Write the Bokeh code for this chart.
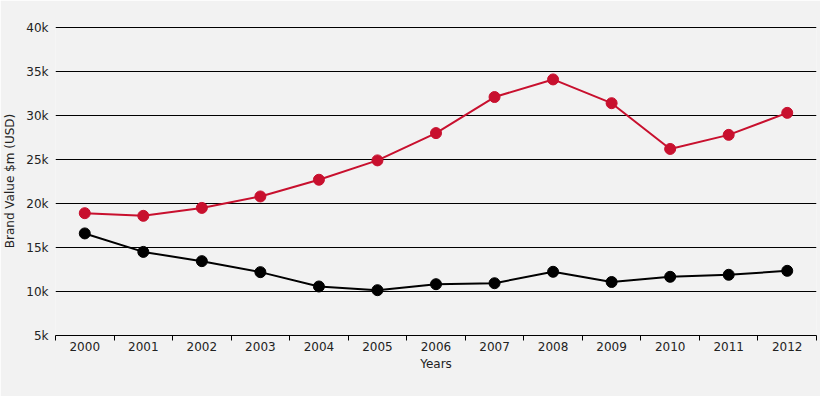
from bokeh.plotting import figure
from bokeh.models import FixedTicker, Range1d, CustomJSTickFormatter
from bokeh.embed import file_html
from bokeh.resources import INLINE

years = ["2000", "2001", "2002", "2003", "2004", "2005", "2006",
         "2007", "2008", "2009", "2010", "2011", "2012"]
red_values = [18900, 18600, 19500, 20800, 22700, 24900, 28000,
              32100, 34100, 31400, 26200, 27800, 30300]
black_values = [16600, 14500, 13450, 12200, 10570, 10150, 10830,
                10940, 12240, 11080, 11670, 11900, 12350]
y_ticks = [5000, 10000, 15000, 20000, 25000, 30000, 35000, 40000]

RED = "#c8102e"
BLACK = "#000000"
BG = "#f2f2f2"
FONT = "DejaVu Sans"

xs = list(range(len(years)))

p = figure(width=820, height=396, output_backend="svg", toolbar_location=None,
           x_range=Range1d(-0.5, len(years) - 0.5),
           y_range=Range1d(5000, 40115),
           min_border_left=55, min_border_right=4, min_border_top=26,
           min_border_bottom=61)
p.background_fill_color = BG
p.border_fill_color = BG
p.outline_line_color = None

p.line(xs, red_values, line_color=RED, line_width=2)
p.scatter(xs, red_values, size=11, fill_color=RED, line_color=RED)
p.line(xs, black_values, line_color=BLACK, line_width=2)
p.scatter(xs, black_values, size=11, fill_color=BLACK, line_color=BLACK)

# x axis
p.xaxis.ticker = FixedTicker(ticks=xs, minor_ticks=[i - 0.5 for i in range(len(years) + 1)])
p.xaxis.major_label_overrides = {i: y for i, y in zip(xs, years)}
p.xaxis.major_tick_out = 0
p.xaxis.major_tick_in = 0
p.xaxis.minor_tick_out = 5
p.xaxis.minor_tick_in = 0
p.xaxis.minor_tick_line_color = BLACK
p.xaxis.axis_line_color = BLACK
p.xaxis.axis_line_width = 1
p.xaxis.axis_label = "Years"
p.xaxis.major_label_standoff = 1
p.xaxis.axis_label_standoff = 3

# y axis
p.yaxis.ticker = FixedTicker(ticks=y_ticks)
p.yaxis.formatter = CustomJSTickFormatter(code="return (tick/1000) + 'k';")
p.yaxis.axis_line_color = None
p.yaxis.major_tick_out = 0
p.yaxis.major_tick_in = 0
p.yaxis.minor_tick_line_color = None
p.yaxis.major_label_standoff = 7
p.yaxis.axis_label = "Brand Value $m (USD)"
p.yaxis.axis_label_standoff = 6

for ax in (p.xaxis, p.yaxis):
    ax.major_label_text_font = FONT
    ax.major_label_text_font_size = "12px"
    ax.major_label_text_color = "#222222"
    ax.axis_label_text_font = FONT
    ax.axis_label_text_font_size = "12px"
    ax.axis_label_text_font_style = "normal"
    ax.axis_label_text_color = "#222222"

p.xgrid.grid_line_color = None
p.ygrid.ticker = FixedTicker(ticks=y_ticks)
p.ygrid.grid_line_color = BLACK
p.ygrid.grid_line_width = 1

open("out.html", "w").write(file_html(p, INLINE))
